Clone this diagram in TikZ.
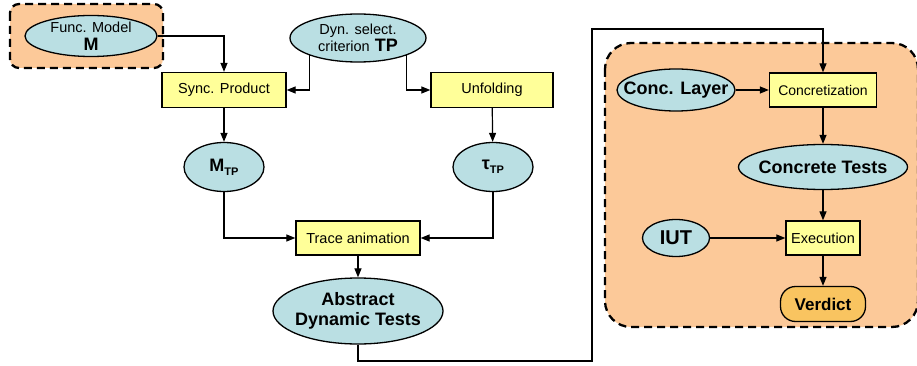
\documentclass[tikz,border=0pt]{standalone}
\usepackage{fontspec}
\setmainfont{Liberation Sans}
\usetikzlibrary{positioning,shapes,arrows.meta}

\definecolor{testblue}{RGB}{186,223,227}
\definecolor{stepyellow}{RGB}{255,255,153}
\definecolor{layerorange}{RGB}{252,201,153}
\definecolor{verdictorange}{RGB}{249,196,96}
\newcommand{\plaintxt}{\fontsize{14.5}{16}\selectfont\mdseries}
\newcommand{\subtp}{{\fontsize{11}{12}\selectfont\raisebox{-4pt}{TP}}}

\begin{document}
\begin{tikzpicture}[x=1pt, y=-1pt,
  artefact/.style={ellipse, draw, line width=1.3pt, fill=testblue, inner sep=-12pt, align=center, font=\fontsize{18}{20}\selectfont\bfseries},
  stepbox/.style={rectangle, draw, line width=1.3pt, fill=stepyellow, inner sep=0pt, minimum height=35pt, font=\fontsize{14.5}{16}\selectfont},
  flow/.style={-{Triangle[length=9pt,width=7pt]}, line width=1.2pt},
  zone/.style={draw, dash pattern=on 8pt off 5pt, line width=2.3pt, fill=layerorange}]

\useasboundingbox (0,0) rectangle (917,366);

% layers
\draw[zone, rounded corners=9pt] (10,4) rectangle (163,68);
\draw[zone, rounded corners=26pt] (605,43) rectangle (918,327);

\node[artefact, minimum width=132pt, minimum height=41pt] (fm) at (91,36) {{\plaintxt Func. Model}\\[-2pt]M};
\node[artefact, minimum width=136pt, minimum height=48pt] (dyn) at (358,38) {{\plaintxt Dyn. select.}\\[-3pt]{\plaintxt criterion} TP};
\node[stepbox, minimum width=124pt] (sync) at (224,90) {Sync. Product};
\node[stepbox, minimum width=122pt] (unf) at (492,90) {Unfolding};
\node[artefact, minimum width=80pt, minimum height=49pt] (mtp) at (224,167) {M\subtp};
\node[artefact, minimum width=80pt, minimum height=49pt] (ttp) at (493,167) {τ\subtp};
\node[stepbox, minimum width=124pt, minimum height=34pt] (trace) at (358,238) {Trace animation};
\node[artefact, minimum width=170pt, minimum height=66pt] (adt) at (358,311) {Abstract\\Dynamic Tests};

\node[artefact, minimum width=118pt, minimum height=42pt] (cl) at (676,90) {Conc. Layer};
\node[stepbox, minimum width=107pt, minimum height=34pt, font=\fontsize{14}{16}\selectfont] (conc) at (823,90) {Concretization};
\node[artefact, minimum width=169pt, minimum height=45pt] (ct) at (823,167) {Concrete Tests};
\node[artefact, minimum width=67pt, minimum height=37pt, font=\fontsize{20}{22}\selectfont\bfseries] (iut) at (676,238) {IUT};
\node[stepbox, minimum width=74pt, minimum height=34pt] (exe) at (823,238) {Execution};
\node[rectangle, rounded corners=15pt, draw, line width=1.3pt, fill=verdictorange, minimum width=85pt, minimum height=35pt, font=\fontsize{17}{19}\selectfont\bfseries] (ver) at (823,304) {Verdict};

\coordinate (lowbend) at (592,361);
\coordinate (highbend) at (592,29);

\draw[flow] (fm) -| (sync);
\draw[flow] (dyn.south west) |- (sync.east);
\draw[flow] (dyn.south east) |- (unf.west);
\draw[flow] (sync) -- (mtp);
\draw[flow] (unf) -- (ttp);
\draw[flow] (mtp) |- (trace);
\draw[flow] (ttp) |- (trace);
\draw[flow] (trace) -- (adt);
\draw[flow] (adt.south) |- (lowbend) -- (highbend) -| (conc.north);
\draw[flow] (cl) -- (conc);
\draw[flow] (conc) -- (ct);
\draw[flow] (ct) -- (exe);
\draw[flow] (iut) -- (exe);
\draw[flow] (exe) -- (ver);
\end{tikzpicture}
\end{document}
